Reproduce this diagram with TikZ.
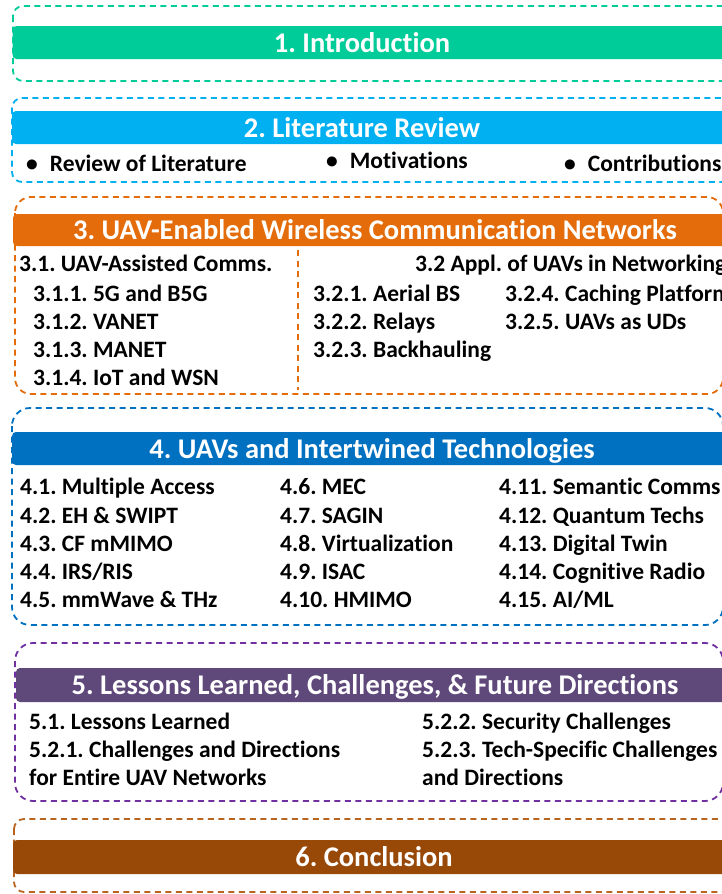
\documentclass[tikz,border=0pt]{standalone}
\usepackage{fontspec}
\setmainfont{Carlito}
\newfontfamily\calfont[Ligatures=NoCommon]{Carlito}
\definecolor{cGreen}{HTML}{00CC99}
\definecolor{cLBlue}{HTML}{00B0F0}
\definecolor{cOrange}{HTML}{E46C0A}
\definecolor{cBlue}{HTML}{0070C0}
\definecolor{cPurpleB}{HTML}{5F497A}
\definecolor{cPurpleD}{HTML}{7030A0}
\definecolor{cBrownB}{HTML}{984807}
\definecolor{cBrownD}{HTML}{B8641F}
\begin{document}
\frenchspacing
\begin{tikzpicture}[x=1pt,y=-1pt,
  dbox/.style={dash pattern=on 6pt off 4.5pt, line width=1.8pt, rounded corners=14pt},
  banner/.style={rounded corners=4pt},
  item/.style={anchor=base west, inner sep=0pt, font=\calfont\bfseries\fontsize{23.5}{28}\selectfont\frenchspacing},
  btitle/.style={anchor=base, inner sep=0pt, text=white, font=\calfont\bfseries\fontsize{28.5}{32}\selectfont\frenchspacing},
  divider/.style={dash pattern=on 6pt off 4.5pt, line width=1.8pt}]
\useasboundingbox (0,0) rectangle (722,894);
\clip (0,0) rectangle (722,894);
% ---------- 1. Introduction
\draw[dbox, cGreen, rounded corners=10pt] (13,6) rectangle (735,81);
\fill[banner, cGreen] (12.5,26) rectangle (740,59);
\node[btitle] (t1) at (362,52) {1. Introduction};
% ---------- 2. Literature Review
\draw[dbox, cLBlue, rounded corners=10pt] (12,98) rectangle (735,182);
\fill[banner, cLBlue] (12,111) rectangle (740,144);
\node[btitle] (t2) at (362,137) {2. Literature Review};
\node[item] (b1) at (26,171) {\textbullet\hspace{12pt}Review of Literature};
\node[item] (b2) at (326,168) {\textbullet\hspace{12pt}Motivations};
\node[item] (b3) at (564,171) {\textbullet\hspace{12pt}Contributions};
% ---------- 3. UAV-Enabled
\draw[dbox, cOrange, rounded corners=16pt] (15,197) rectangle (723,394);
\fill[banner, cOrange] (13,214) rectangle (740,246);
\node[btitle] (t3) at (375,239.5) {3. UAV-Enabled Wireless Communication Networks};
\draw[divider, cOrange] (298,250) -- (298,390);
\node[item] (s31) at (19,271) {3.1. UAV-Assisted Comms.};
\node[item] (s311) at (33,301) {3.1.1. 5G and B5G};
\node[item] (s312) at (33,329) {3.1.2. VANET};
\node[item] (s313) at (33,357) {3.1.3. MANET};
\node[item] (s314) at (33,385) {3.1.4. IoT and WSN};
\node[item] (s32) at (415,271) {3.2 Appl. of UAVs in Networking};
\node[item] (s321) at (313,301) {3.2.1. Aerial BS};
\node[item] (s322) at (313,329) {3.2.2. Relays};
\node[item] (s323) at (313,357) {3.2.3. Backhauling};
\node[item] (s324) at (505,301) {3.2.4. Caching Platform};
\node[item] (s325) at (505,329) {3.2.5. UAVs as UDs};
% ---------- 4. UAVs and Intertwined Technologies
\draw[dbox, cBlue, rounded corners=18pt] (12,408) rectangle (723,625);
\fill[banner, cBlue] (12,432) rectangle (740,465);
\node[btitle] (t4) at (372,458) {4. UAVs and Intertwined Technologies};
\node[item] (s41) at (20,494) {4.1. Multiple Access};
\node[item] (s42) at (20,523) {4.2. EH \& SWIPT};
\node[item] (s43) at (20,551) {4.3. CF mMIMO};
\node[item] (s44) at (20,579) {4.4. IRS/RIS};
\node[item] (s45) at (20,607) {4.5. mmWave \& THz};
\node[item] (s46) at (280,494) {4.6. MEC};
\node[item] (s47) at (280,523) {4.7. SAGIN};
\node[item] (s48) at (280,551) {4.8. Virtualization};
\node[item] (s49) at (280,579) {4.9. ISAC};
\node[item] (s410) at (280,607) {4.10. HMIMO};
\node[item] (s411) at (499,494) {4.11. Semantic Comms};
\node[item] (s412) at (499,523) {4.12. Quantum Techs};
\node[item] (s413) at (499,551) {4.13. Digital Twin};
\node[item] (s414) at (499,579) {4.14. Cognitive Radio};
\node[item] (s415) at (499,607) {4.15. AI/ML};
% ---------- 5. Lessons Learned
\draw[dbox, cPurpleD, rounded corners=18pt] (15,643) rectangle (723,801);
\fill[banner, cPurpleB] (16,668) rectangle (740,702);
\node[btitle] (t5) at (375,694.5) {5. Lessons Learned, Challenges, \& Future Directions};
\node[item] (s51) at (29,729) {5.1. Lessons Learned};
\node[item] (s521) at (29,757) {5.2.1. Challenges and Directions};
\node[item] (s521b) at (29,785) {for Entire UAV Networks};
\node[item] (s522) at (422,729) {5.2.2. Security Challenges};
\node[item] (s523) at (422,757) {5.2.3. Tech-Specific Challenges};
\node[item] (s523b) at (422,785) {and Directions};
% ---------- 6. Conclusion
\draw[dbox, cBrownD, rounded corners=10pt] (14,819) rectangle (735,892);
\fill[banner, cBrownB] (13,840) rectangle (740,874);
\node[btitle] (t6) at (374,866.5) {6. Conclusion};
\end{tikzpicture}
\end{document}
